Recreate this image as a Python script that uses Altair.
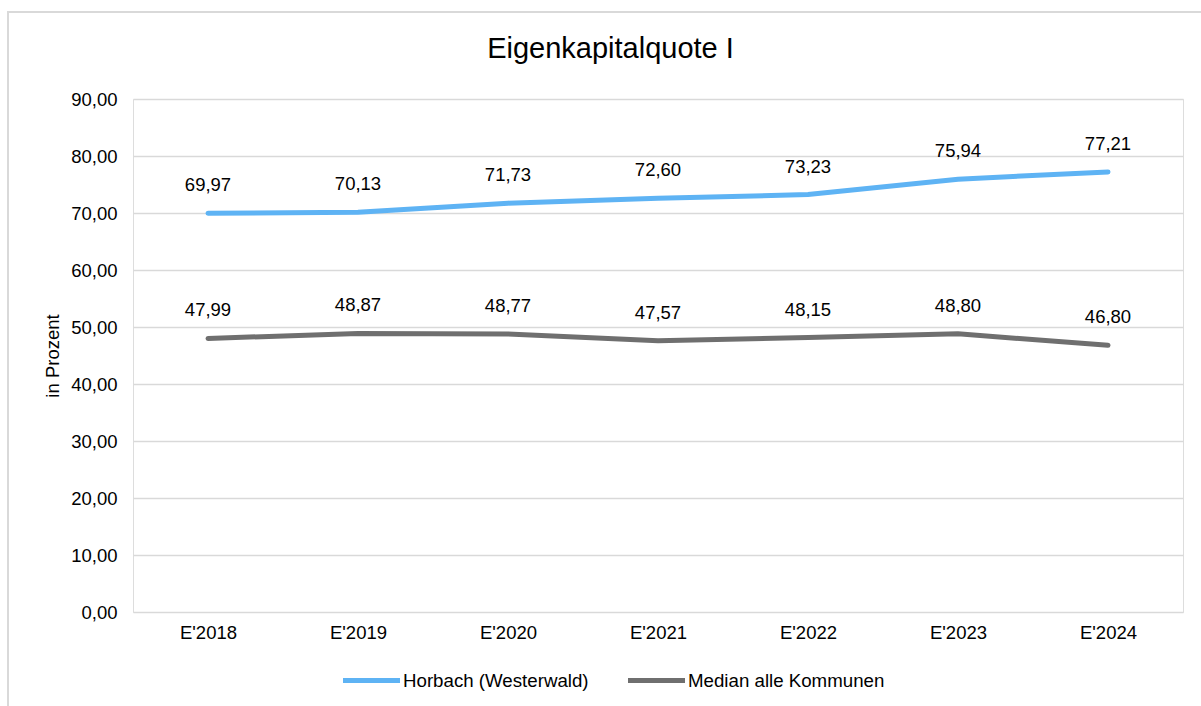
import altair as alt
import pandas as pd

years = ["E'2018", "E'2019", "E'2020", "E'2021", "E'2022", "E'2023", "E'2024"]
horbach = [69.97, 70.13, 71.73, 72.60, 73.23, 75.94, 77.21]
median = [47.99, 48.87, 48.77, 47.57, 48.15, 48.80, 46.80]
series_names = ["Horbach (Westerwald)", "Median alle Kommunen"]
colors = ["#5EB3F4", "#6F6F6F"]
chart_title = "Eigenkapitalquote I"

rows = []
for y, v in zip(years, horbach):
    rows.append({"year": y, "value": v, "series": series_names[0]})
for y, v in zip(years, median):
    rows.append({"year": y, "value": v, "series": series_names[1]})
df = pd.DataFrame(rows)

FONT = "Liberation Sans"

x_enc = alt.X("year:N", sort=years, scale=alt.Scale(type="point", padding=0.5),
              axis=alt.Axis(title=None, labelAngle=0, domain=False, ticks=False,
                            labelFontSize=18.5, labelPadding=11, labelColor="#000000",
                            labelFont=FONT, grid=False))
y_enc = alt.Y("value:Q", scale=alt.Scale(domain=[0, 90], nice=False),
              axis=alt.Axis(title="in Prozent", values=list(range(0, 91, 10)),
                            labelExpr="replace(format(datum.value, '.2f'), '.', ',')",
                            domain=False, ticks=False, labelFontSize=18.5, labelPadding=16,
                            labelColor="#000000", labelFont=FONT,
                            titleFontSize=18.5, titleFontWeight="normal", titleColor="#000000",
                            titleFont=FONT, titlePadding=8,
                            gridColor="#d9d9d9", gridWidth=1.5))
color_enc = alt.Color("series:N", sort=series_names,
                      scale=alt.Scale(domain=series_names, range=colors),
                      legend=alt.Legend(title=None, orient="none", direction="horizontal",
                                        legendX=207.5, legendY=550.5,
                                        symbolType="stroke", symbolSize=3249,
                                        symbolStrokeWidth=5, labelFontSize=18.7,
                                        labelFont=FONT, labelColor="#000000",
                                        labelLimit=1000,
                                        labelOffset=0.5, columnPadding=28))

base = alt.Chart(df)

lines = base.mark_line(strokeWidth=5, strokeCap="round").encode(
    x=x_enc, y=y_enc, color=color_enc)

labels = base.mark_text(fontSize=18.5, font=FONT, color="#000000", dy=-28,
                        baseline="middle").transform_calculate(
    lab="replace(format(datum.value, '.2f'), '.', ',')"
).encode(x=alt.X("year:N", sort=years), y="value:Q", text="lab:N")

deco = pd.DataFrame({"t": [chart_title]})
frame = alt.Chart(deco).mark_rect(
    fill=None, stroke="#d9d9d9", strokeWidth=2, clip=False).encode(
    x=alt.value(-125), y=alt.value(-87), x2=alt.value(1200), y2=alt.value(700))

title = alt.Chart(deco).mark_text(
    fontSize=29, font=FONT, color="#000000", align="center", baseline="alphabetic").encode(
    x=alt.value(477.5), y=alt.value(-41), text="t:N")

chart = alt.layer(frame, lines, labels, title).properties(
    width=1050, height=513,
    autosize=alt.AutoSizeParams(type="none"),
    padding={"left": 133, "top": 99, "right": 18, "bottom": 94},
).configure_view(stroke=None).configure(background="#ffffff")

chart.save("out.html", embed_options={"renderer": "svg", "actions": False})
